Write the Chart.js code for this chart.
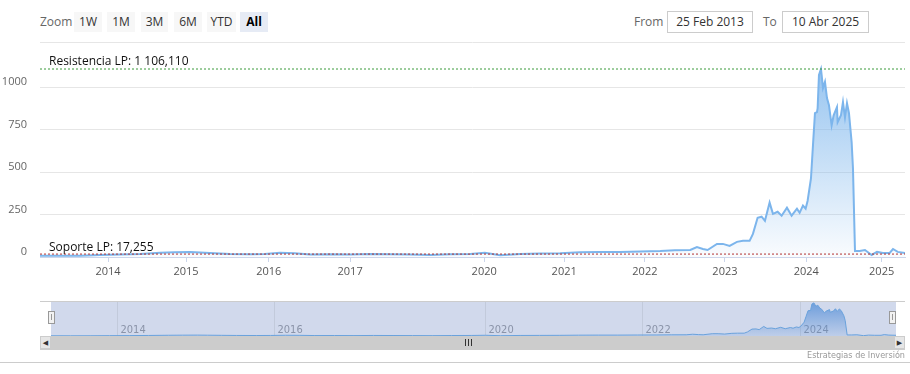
<!DOCTYPE html>
<html>
<head>
<meta charset="utf-8">
<script src="https://cdn.jsdelivr.net/npm/chart.js@4.4.1/dist/chart.umd.min.js"></script>
<style>
  body { margin: 0; background: #fff; font-family: "Open Sans", "DejaVu Sans", sans-serif; }
  #wrap { position: relative; width: 910px; height: 374px; overflow: hidden; }
  .txt { position: absolute; font-size: 12px; color: #666; line-height: 20px; }
  .btn { position: absolute; top: 12px; height: 20px; line-height: 20px; background: #f7f7f7; color: #333; font-size: 12px; text-align: center; }
  .btn.sel { background: #e6ebf5; font-weight: bold; color: #000; }
  .inp { position: absolute; top: 11px; height: 20px; line-height: 20px; border: 1px solid #ccc; font-size: 12px; color: #333; text-align: center; }
  canvas { position: absolute; left: 0; }
  .div { position: absolute; }
</style>
</head>
<body>
<div id="wrap">
  <div class="txt" style="left:40px;top:12px;">Zoom</div>
  <div class="btn" style="left:74px;width:28px;">1W</div>
  <div class="btn" style="left:107px;width:28px;">1M</div>
  <div class="btn" style="left:141px;width:27px;">3M</div>
  <div class="btn" style="left:174px;width:28px;">6M</div>
  <div class="btn" style="left:207px;width:29px;">YTD</div>
  <div class="btn sel" style="left:240px;width:28px;">All</div>
  <div class="txt" style="left:634px;top:12px;">From</div>
  <div class="inp" style="left:667px;width:84px;">25 Feb 2013</div>
  <div class="txt" style="left:763px;top:12px;">To</div>
  <div class="inp" style="left:782px;width:85px;">10 Abr 2025</div>

  <canvas id="grafico" width="910" height="290" style="top:0;width:910px;height:290px;"></canvas>
  <canvas id="navegador" width="910" height="50" style="top:290px;width:910px;height:50px;"></canvas>

  <!-- barra de desplazamiento -->
  <div class="div" style="left:40px;top:301px;width:865px;height:1px;background:#ccc;"></div>
  <div class="div" style="left:40px;top:336px;width:865px;height:14px;background:#cccccc;"></div>
  <div class="div" style="left:40px;top:336px;width:11px;height:13px;background:#e6e6e6;border:1px solid #ccc;box-sizing:border-box;font-size:7px;line-height:11px;text-align:center;color:#333;">&#9664;</div>
  <div class="div" style="left:894px;top:336px;width:11px;height:13px;background:#e6e6e6;border:1px solid #ccc;box-sizing:border-box;font-size:7px;line-height:11px;text-align:center;color:#333;">&#9654;</div>
  <div class="div" style="left:465px;top:339px;width:1px;height:7px;background:#333;"></div>
  <div class="div" style="left:468px;top:339px;width:1px;height:7px;background:#333;"></div>
  <div class="div" style="left:471px;top:339px;width:1px;height:7px;background:#333;"></div>
  <div class="div" style="left:48px;top:311px;width:7px;height:13px;background:#f2f2f2;border:1px solid #999;box-sizing:border-box;"></div>
  <div class="div" style="left:51px;top:314px;width:1px;height:6px;background:#999;"></div>
  <div class="div" style="left:889px;top:311px;width:7px;height:13px;background:#f2f2f2;border:1px solid #999;box-sizing:border-box;"></div>
  <div class="div" style="left:892px;top:314px;width:1px;height:6px;background:#999;"></div>
  <div class="txt" style="right:5px;top:349px;font-size:9px;color:#999;line-height:12px;font-family:'Liberation Sans Narrow','DejaVu Sans Condensed',sans-serif;">Estrategias de Inversión</div>
  <div class="div" style="left:0;top:362px;width:910px;height:1px;background:#ccc;"></div>
</div>

<script>
// posicion: meses de datos desde 25 Feb 2013 (eje ordinal, sin huecos)
var posicion = [0, 3, 6, 9, 12, 15, 18, 20.2, 22.5, 24, 26.2, 28.5, 31.5, 33.7, 36, 38.2, 40.5, 43.5, 46.5, 49.5,
    52.5, 55.5, 58.5, 61.5, 64.5, 66.7, 69, 72, 75, 78, 81, 84, 87, 90, 93, 95.2, 97.5, 98.5, 99.4, 100.1,
    101.5, 102.4, 103.4, 104.5, 105.4, 106.4, 106.9, 107.6, 108.2, 108.7, 109.4, 109.9, 110.6, 111.2, 112, 112.7,
    113.5, 113.9, 114.4, 114.8, 115.1, 115.6, 115.9, 116.2, 116.5, 116.6, 116.8, 117.1, 117.2, 117.4, 117.7,
    118, 118.3, 118.7, 119, 119.5, 119.6, 120.1, 120.4, 120.7, 121, 121.3, 121.7, 121.9, 122.2, 122.9, 123.7,
    124.7, 125.5, 126.4, 127.4, 127.9, 128.6, 129.7];
var precio = [8, 7, 8, 12, 14, 18, 25, 28, 30, 27, 22, 18, 16, 18, 25, 22, 15, 16, 14, 18,
    16, 14, 12, 16, 18, 25, 10, 18, 20, 22, 28, 30, 30, 33, 35, 40, 41, 59, 47, 41,
    77, 77, 65, 89, 95, 95, 136, 231, 237, 213, 320, 254, 266, 243, 290, 243,
    284, 260, 302, 284, 331, 462, 657, 846, 852, 876, 1071, 1106, 1071, 994, 1030,
    935, 893, 775, 834, 882, 793, 834, 911, 822, 905, 846, 675, 520, 35, 35, 41,
    12, 30, 24, 24, 47, 30, 24];

var tickPos = [10.2, 21.9, 34.3, 46.5, 66.6, 78.6, 90.7, 102.7, 114.9, 126.2];
var tickEtiquetas = ['2014', '2015', '2016', '2017', '2020', '2021', '2022', '2023', '2024', '2025'];
var navTickPos = [10.2, 34.3, 66.6, 90.7, 114.9];
var navEtiquetas = ['2014', '2016', '2020', '2022', '2024'];
var yTicks = [0, 250, 500, 750, 1000];

var resistencia = 1106.110;
var soporte = 17.255;
var txtResistencia = 'Resistencia LP: 1 106,110';
var txtSoporte = 'Soporte LP: 17,255';

var puntos = [];
for (var i = 0; i < posicion.length; i++) {
    puntos.push({ x: posicion[i], y: precio[i] });
}
var xMax = posicion[posicion.length - 1];

function relleno(context) {
    var area = context.chart.chartArea;
    if (!area) return 'rgba(124,181,236,0.4)';
    var g = context.chart.ctx.createLinearGradient(0, area.top, 0, area.bottom);
    g.addColorStop(0, 'rgba(124,181,236,0.9)');
    g.addColorStop(1, 'rgba(124,181,236,0.04)');
    return g;
}

var etiquetas = {
    id: 'etiquetas',
    afterDatasetsDraw: function(chart) {
        var ctx = chart.ctx;
        var y = chart.scales.y;
        var a = chart.chartArea;
        ctx.save();
        ctx.strokeStyle = '#e6e6e6';
        ctx.lineWidth = 1;
        ctx.beginPath();
        ctx.moveTo(a.left, a.top + 0.5);
        ctx.lineTo(a.right, a.top + 0.5);
        ctx.stroke();
        ctx.font = '12px "Open Sans", sans-serif';
        ctx.fillStyle = '#111';
        ctx.textBaseline = 'alphabetic';
        ctx.fillText(txtResistencia, a.left + 9, y.getPixelForValue(resistencia) - 4);
        ctx.fillText(txtSoporte, a.left + 9, y.getPixelForValue(soporte) - 3);
        ctx.restore();
    }
};

new Chart(document.getElementById('grafico'), {
    type: 'line',
    data: {
        datasets: [{
            data: puntos,
            borderColor: '#7cb5ec',
            borderWidth: 2,
            backgroundColor: relleno,
            fill: 'origin',
            pointRadius: 0,
            tension: 0,
            order: 2
        }, {
            data: [{ x: 0, y: resistencia }, { x: xMax, y: resistencia }],
            borderColor: '#3c9a3c',
            borderWidth: 1,
            borderDash: [2, 2],
            pointRadius: 0,
            fill: false,
            order: 1
        }, {
            data: [{ x: 0, y: soporte }, { x: xMax, y: soporte }],
            borderColor: '#b03030',
            borderWidth: 1,
            borderDash: [2, 2],
            pointRadius: 0,
            fill: false,
            order: 1
        }]
    },
    options: {
        responsive: false,
        animation: false,
        layout: { padding: { top: 42, right: 5, left: 0, bottom: 0 } },
        plugins: { legend: { display: false }, tooltip: { enabled: false } },
        scales: {
            x: {
                type: 'linear',
                min: 0,
                max: xMax,
                afterBuildTicks: function(scale) {
                    scale.ticks = tickPos.map(function(v) { return { value: v }; });
                },
                afterFit: function(scale) { scale.height = 33; },
                ticks: {
                    autoSkip: false,
                    maxRotation: 0,
                    padding: 3,
                    color: '#555',
                    font: { size: 11, family: '"Open Sans", sans-serif' },
                    callback: function(v, i) { return tickEtiquetas[i]; }
                },
                grid: { drawOnChartArea: false, tickLength: 5, color: '#ccd6eb' },
                border: { color: '#ccd6eb' }
            },
            y: {
                min: 0,
                max: 1265,
                afterBuildTicks: function(scale) {
                    scale.ticks = yTicks.map(function(v) { return { value: v }; });
                },
                afterFit: function(scale) { scale.width = 40; },
                ticks: {
                    padding: 13,
                    labelOffset: -5,
                    color: '#666',
                    font: { size: 11, family: '"Open Sans", sans-serif' },
                    callback: function(v) { return String(v); }
                },
                grid: { drawTicks: false, color: '#e6e6e6' },
                border: { display: false }
            }
        }
    },
    plugins: [etiquetas]
});

var fondoNav = {
    id: 'fondoNav',
    beforeDatasetsDraw: function(chart) {
        var ctx = chart.ctx;
        var a = chart.chartArea;
        var x = chart.scales.x;
        ctx.save();
        ctx.fillStyle = '#d1d9ec';
        ctx.fillRect(a.left, a.top, a.right - a.left, a.bottom - a.top);
        ctx.strokeStyle = '#c2cadb';
        ctx.lineWidth = 1;
        ctx.font = '11px "Liberation Sans Narrow", "DejaVu Sans Condensed", sans-serif';
        ctx.fillStyle = '#8a93a8';
        ctx.textBaseline = 'alphabetic';
        for (var i = 0; i < navTickPos.length; i++) {
            var px = Math.round(x.getPixelForValue(navTickPos[i])) + 0.5;
            ctx.beginPath();
            ctx.moveTo(px, a.top);
            ctx.lineTo(px, a.bottom);
            ctx.stroke();
            ctx.fillText(navEtiquetas[i], px + 3, a.bottom - 3);
        }
        ctx.restore();
    }
};

function rellenoNav(context) {
    var area = context.chart.chartArea;
    if (!area) return 'rgba(69,130,209,0.5)';
    var g = context.chart.ctx.createLinearGradient(0, area.top, 0, area.bottom);
    g.addColorStop(0, 'rgba(80,140,215,0.8)');
    g.addColorStop(1, 'rgba(80,140,215,0.15)');
    return g;
}

new Chart(document.getElementById('navegador'), {
    type: 'line',
    data: {
        datasets: [{
            data: puntos,
            borderColor: '#6aa2dc',
            borderWidth: 1,
            backgroundColor: rellenoNav,
            fill: 'origin',
            pointRadius: 0,
            tension: 0
        }]
    },
    options: {
        responsive: false,
        animation: false,
        layout: { padding: { top: 11, right: 14, left: 51, bottom: 4 } },
        plugins: { legend: { display: false }, tooltip: { enabled: false } },
        scales: {
            x: { type: 'linear', min: 0, max: xMax, display: false },
            y: { min: 0, max: 1170, display: false }
        }
    },
    plugins: [fondoNav]
});
</script>
</body>
</html>
